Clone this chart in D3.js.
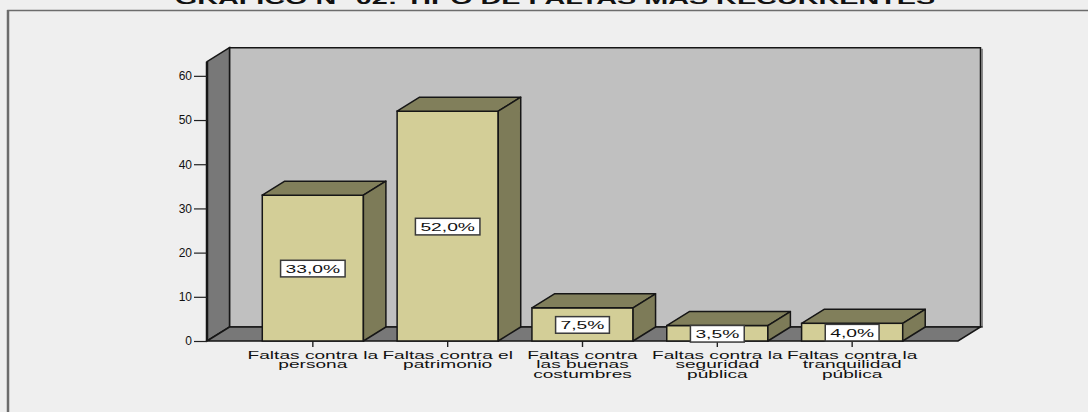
<!DOCTYPE html>
<html>
<head>
<meta charset="utf-8">
<script src="https://cdn.jsdelivr.net/npm/d3@7"></script>
<style>
  html, body { margin: 0; padding: 0; background: #efefef; }
  svg { display: block; }
  text { font-family: "Liberation Sans", Arial, sans-serif; fill: #111; }
</style>
</head>
<body>
<svg id="chart" width="1088" height="412"></svg>
<script>
const title = "GRAFICO N° 02: TIPO DE FALTAS MAS RECURRENTES";
const categories = [
  ["Faltas contra la", "persona"],
  ["Faltas contra el", "patrimonio"],
  ["Faltas contra", "las buenas", "costumbres"],
  ["Faltas contra la", "seguridad", "pública"],
  ["Faltas contra la", "tranquilidad", "pública"]
];
const categoryKeys = categories.map(c => c.join(" "));
const values = [33.0, 52.0, 7.5, 3.5, 4.0];
const valueLabels = ["33,0%", "52,0%", "7,5%", "3,5%", "4,0%"];
const yTicks = [0, 10, 20, 30, 40, 50, 60];
const yMax = 63.2;

const W = 1088, H = 412;
const svg = d3.select("#chart");

// 3D depth offset
const DX = 22.5, DY = -14;
const stroke = "#161616";

const y = d3.scaleLinear().domain([0, yMax]).range([341, 61.7]);
const x = d3.scaleBand().domain(categoryKeys).range([207, 958])
  .paddingInner(0.25).paddingOuter(0.41);

// background
svg.append("rect").attr("x", 0).attr("y", 0).attr("width", W).attr("height", H).attr("fill", "#efefef");
// outer frame (extends beyond image on right/bottom)
svg.append("rect").attr("x", 8).attr("y", 10.5).attr("width", 1200).attr("height", 600)
  .attr("fill", "#efefef").attr("stroke", "#6c6c6c").attr("stroke-width", 1.5);
svg.append("line").attr("x1", 8).attr("x2", 8).attr("y1", 10).attr("y2", H)
  .attr("stroke", "#6c6c6c").attr("stroke-width", 2.5);

// title (horizontally stretched, cut off at top as in the source)
svg.append("text")
  .attr("transform", `translate(555,4) scale(1.8,1)`)
  .attr("text-anchor", "middle")
  .attr("font-size", 16).attr("font-weight", "bold")
  .text(title);

const x0 = x.range()[0], x1 = x.range()[1];
const y0 = y(0), yT = y(yMax);

// back wall
svg.append("polygon")
  .attr("points", [[x0 + DX, yT + DY], [x1 + DX, yT + DY], [x1 + DX, y0 + DY], [x0 + DX, y0 + DY]].join(" "))
  .attr("fill", "#c0c0c0").attr("stroke", stroke).attr("stroke-width", 1.5);
svg.append("line").attr("x1", x1 + DX + 1.5).attr("x2", x1 + DX + 1.5)
  .attr("y1", yT + DY + 1).attr("y2", y0 + DY + 1).attr("stroke", "#666").attr("stroke-width", 1.5);
// left wall
svg.append("polygon")
  .attr("points", [[x0, y0], [x0, yT], [x0 + DX, yT + DY], [x0 + DX, y0 + DY]].join(" "))
  .attr("fill", "#787878").attr("stroke", stroke).attr("stroke-width", 1.5);
svg.append("line").attr("x1", x0).attr("x2", x0).attr("y1", yT).attr("y2", y0)
  .attr("stroke", stroke).attr("stroke-width", 2.5);
// floor
svg.append("polygon")
  .attr("points", [[x0, y0], [x0 + DX, y0 + DY], [x1 + DX, y0 + DY], [x1, y0]].join(" "))
  .attr("fill", "#787878").attr("stroke", stroke).attr("stroke-width", 1.5);

// y axis
const yAxis = svg.append("g").attr("transform", `translate(${x0},0)`)
  .call(d3.axisLeft(y).tickValues(yTicks).tickSize(13).tickPadding(2).tickFormat(d3.format("d")));
yAxis.select(".domain").remove();
yAxis.selectAll(".tick line").attr("stroke", "#222").attr("stroke-width", 1.2);
yAxis.selectAll(".tick text").attr("font-size", 12).attr("fill", "#111")
  .attr("font-family", "'Liberation Sans', Arial, sans-serif");

// x axis ticks
const xAxis = svg.append("g").attr("transform", `translate(0,${y0})`)
  .call(d3.axisBottom(x).tickSize(6).tickFormat(""));
xAxis.select(".domain").remove();
xAxis.selectAll(".tick line").attr("stroke", "#222").attr("stroke-width", 1.4);

// bars
const data = categoryKeys.map((k, i) => ({ k, v: values[i], lab: valueLabels[i], lines: categories[i] }));
const bars = svg.append("g").selectAll("g").data(data).join("g");
bars.each(function(d) {
  const g = d3.select(this);
  const bx0 = x(d.k), bx1 = x(d.k) + x.bandwidth();
  const yv = y(d.v);
  g.append("rect").attr("x", bx0).attr("y", yv).attr("width", bx1 - bx0).attr("height", y0 - yv)
    .attr("fill", "#d3ce97").attr("stroke", stroke).attr("stroke-width", 1.5);
  g.append("polygon").attr("points", [[bx0, yv], [bx0 + DX, yv + DY], [bx1 + DX, yv + DY], [bx1, yv]].join(" "))
    .attr("fill", "#817f5b").attr("stroke", stroke).attr("stroke-width", 1.5).attr("stroke-linejoin", "round");
  g.append("polygon").attr("points", [[bx1, yv], [bx1 + DX, yv + DY], [bx1 + DX, y0 + DY], [bx1, y0]].join(" "))
    .attr("fill", "#7d7b58").attr("stroke", stroke).attr("stroke-width", 1.5).attr("stroke-linejoin", "round");
});

// value labels
const VS = 1.75;
bars.each(function(d) {
  const g = d3.select(this);
  const cx = x(d.k) + x.bandwidth() / 2;
  const cy = (y(d.v) + y0) / 2 + 0.5;
  const lg = g.append("g").attr("transform", `translate(${cx},${cy})`);
  const box = lg.append("rect");
  const t = lg.append("text").attr("transform", `scale(${VS},1)`)
    .attr("text-anchor", "middle").attr("dy", "0.36em")
    .attr("font-size", 11).text(d.lab);
  const w = t.node().getComputedTextLength() * VS + 10;
  box.attr("x", -w / 2).attr("y", -8.3).attr("width", w).attr("height", 16.6)
    .attr("fill", "#ffffff").attr("stroke", "#3a3a3a").attr("stroke-width", 1.5);
});

// category labels
const CS = 1.82;
data.forEach(d => {
  const cx = x(d.k) + x.bandwidth() / 2;
  const t = svg.append("text").attr("transform", `translate(${cx},358.5) scale(${CS},1)`)
    .attr("text-anchor", "middle").attr("font-size", 10.5);
  d.lines.forEach((ln, i) => {
    t.append("tspan").attr("x", 0).attr("y", i * 10).text(ln);
  });
});
</script>
</body>
</html>
